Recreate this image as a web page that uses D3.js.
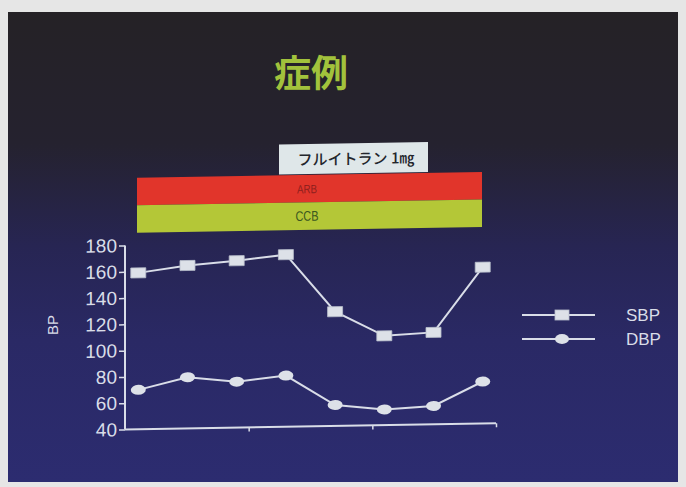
<!DOCTYPE html>
<html>
<head>
<meta charset="utf-8">
<script src="https://cdn.jsdelivr.net/npm/d3@7/dist/d3.min.js"></script>
<style>
  html, body { margin: 0; padding: 0; background: #e6e6e6; }
  svg { display: block; }
</style>
</head>
<body>
<svg id="chart" width="686" height="487"></svg>
<script>
// Blood pressure over eight visits
const visits = ["1", "2", "3", "4", "5", "6", "7", "8"];
const sbp = [159, 164, 167, 171, 127, 108, 110, 159];
const dbp = [70, 79, 75, 79, 56, 52, 54, 72];
const yTicks = [40, 60, 80, 100, 120, 140, 160, 180];
const seriesNames = ["SBP", "DBP"];
const therapyBands = ["ARB", "CCB"];
const drugLabel = "フルイトラン 1㎎";
const titleText = "症例";

const svg = d3.select("#chart");

// Slide background
const defs = svg.append("defs");
const grad = defs.append("linearGradient")
  .attr("id", "slideBg").attr("x1", 0).attr("y1", 0).attr("x2", 0).attr("y2", 1);
[["0%", "#252226"], ["28%", "#25222f"], ["50%", "#272553"], ["70%", "#2a2965"], ["100%", "#2c2c70"]]
  .forEach(([o, c]) => grad.append("stop").attr("offset", o).attr("stop-color", c));

svg.append("rect").attr("x", 8).attr("y", 12).attr("width", 670).attr("height", 470)
  .attr("fill", "url(#slideBg)");

// Title
svg.append("text")
  .attr("x", 311).attr("y", 87)
  .attr("text-anchor", "middle")
  .attr("font-family", "'Noto Sans CJK JP', sans-serif")
  .attr("font-weight", 700).attr("font-size", 37)
  .attr("fill", "#a2c23c")
  .text(titleText);

// Everything below sits on a slight slant
const axisX = 125;
const slant = svg.append("g")
  .attr("transform", `translate(${axisX},0) skewY(-0.95) translate(${-axisX},0)`);

// Therapy bands
const bandX = d3.scaleLinear().domain([0, 1]).range([137, 482]);
const bandY = d3.scaleBand().domain(therapyBands).range([178, 233]).padding(0);
const bandFill = { ARB: "#e1352b", CCB: "#b4c737" };
const bandText = { ARB: "#8e1f1d", CCB: "#3b5720" };
const bandTextLen = { ARB: 20, CCB: 23 };

slant.selectAll("rect.band").data(therapyBands).join("rect")
  .attr("class", "band")
  .attr("x", bandX(0)).attr("width", bandX(1) - bandX(0))
  .attr("y", d => bandY(d)).attr("height", bandY.bandwidth())
  .attr("fill", d => bandFill[d]);

slant.selectAll("text.band").data(therapyBands).join("text")
  .attr("class", "band")
  .attr("x", 307)
  .attr("y", d => bandY(d) + bandY.bandwidth() / 2 + 4.5)
  .attr("text-anchor", "middle")
  .attr("font-family", "'Liberation Sans', Arial, sans-serif")
  .attr("font-size", d => d === "ARB" ? 12 : 14)
  .attr("textLength", d => bandTextLen[d])
  .attr("lengthAdjust", "spacingAndGlyphs")
  .attr("fill", d => bandText[d])
  .text(d => d);

// Drug label box
slant.append("rect")
  .attr("x", 279).attr("y", 147).attr("width", 149).attr("height", 30)
  .attr("fill", "#dfe7e9");
slant.append("text")
  .attr("x", 356).attr("y", 168)
  .attr("text-anchor", "middle")
  .attr("font-family", "'Noto Sans CJK JP', sans-serif")
  .attr("font-weight", 500).attr("font-size", 15)
  .attr("fill", "#23262c")
  .text(drugLabel);

// Scales
const y = d3.scaleLinear().domain([40, 180]).range([429.5, 245.5]);
const xAxisScale = d3.scaleLinear().domain([0, 3]).range([axisX, 496]);
const x = d3.scalePoint().domain(visits).range([axisX, 496]).padding(0.27);

const ink = "#d9dde8";

// Y axis
const yAxis = slant.append("g")
  .attr("transform", `translate(${axisX},0)`)
  .call(d3.axisLeft(y).tickValues(yTicks).tickSize(6).tickPadding(2));
yAxis.select(".domain").attr("stroke", ink).attr("stroke-width", 2).attr("d", `M0,${y(180)}V${y(40)}`);
yAxis.selectAll(".tick line").attr("stroke", ink).attr("stroke-width", 1.5);
yAxis.selectAll(".tick text")
  .attr("fill", ink)
  .attr("font-family", "'Liberation Sans', Arial, sans-serif")
  .attr("font-size", 19);

// X axis (unlabelled divisions)
const xAxis = slant.append("g")
  .attr("transform", `translate(0,${y(40)})`)
  .call(d3.axisBottom(xAxisScale).tickValues([1, 2, 3]).tickSize(4).tickFormat(""));
xAxis.select(".domain").attr("stroke", ink).attr("stroke-width", 2).attr("d", `M${axisX},0H496`);
xAxis.selectAll(".tick line").attr("stroke", ink).attr("stroke-width", 1.5);

// Y axis title
svg.append("text")
  .attr("transform", "translate(58,325) rotate(-90)")
  .attr("text-anchor", "middle")
  .attr("font-family", "'Liberation Sans', Arial, sans-serif")
  .attr("font-size", 15)
  .attr("fill", ink)
  .text("BP");

// Series
const line = d3.line().x((d, i) => x(visits[i])).y(d => y(d));
const markerFill = "#dde1e8";

function drawSeries(values, kind) {
  const g = slant.append("g");
  g.append("path").datum(values)
    .attr("d", line).attr("fill", "none")
    .attr("stroke", ink).attr("stroke-width", 2);
  if (kind === "square") {
    g.selectAll("rect").data(values).join("rect")
      .attr("x", (d, i) => x(visits[i]) - 7.5).attr("y", d => y(d) - 5)
      .attr("width", 15).attr("height", 10)
      .attr("fill", markerFill).attr("stroke", "#b9bfcc").attr("stroke-width", 0.8);
  } else {
    g.selectAll("ellipse").data(values).join("ellipse")
      .attr("cx", (d, i) => x(visits[i])).attr("cy", d => y(d))
      .attr("rx", 7.5).attr("ry", 5)
      .attr("fill", markerFill);
  }
}
drawSeries(sbp, "square");
drawSeries(dbp, "circle");

// Legend
const legend = svg.append("g");
const legendY = d3.scaleBand().domain(seriesNames).range([303, 351]);
seriesNames.forEach(name => {
  const cy = legendY(name) + legendY.bandwidth() / 2;
  legend.append("line")
    .attr("x1", 522).attr("x2", 595).attr("y1", cy).attr("y2", cy)
    .attr("stroke", ink).attr("stroke-width", 2);
  if (name === "SBP") {
    legend.append("rect").attr("x", 555).attr("y", cy - 5).attr("width", 14).attr("height", 10)
      .attr("fill", markerFill).attr("stroke", "#b9bfcc").attr("stroke-width", 0.8);
  } else {
    legend.append("ellipse").attr("cx", 562).attr("cy", cy).attr("rx", 7).attr("ry", 5)
      .attr("fill", markerFill);
  }
  legend.append("text")
    .attr("x", 626).attr("y", cy + 6)
    .attr("font-family", "'Liberation Sans', Arial, sans-serif")
    .attr("font-size", 17)
    .attr("fill", ink)
    .text(name);
});
</script>
</body>
</html>
